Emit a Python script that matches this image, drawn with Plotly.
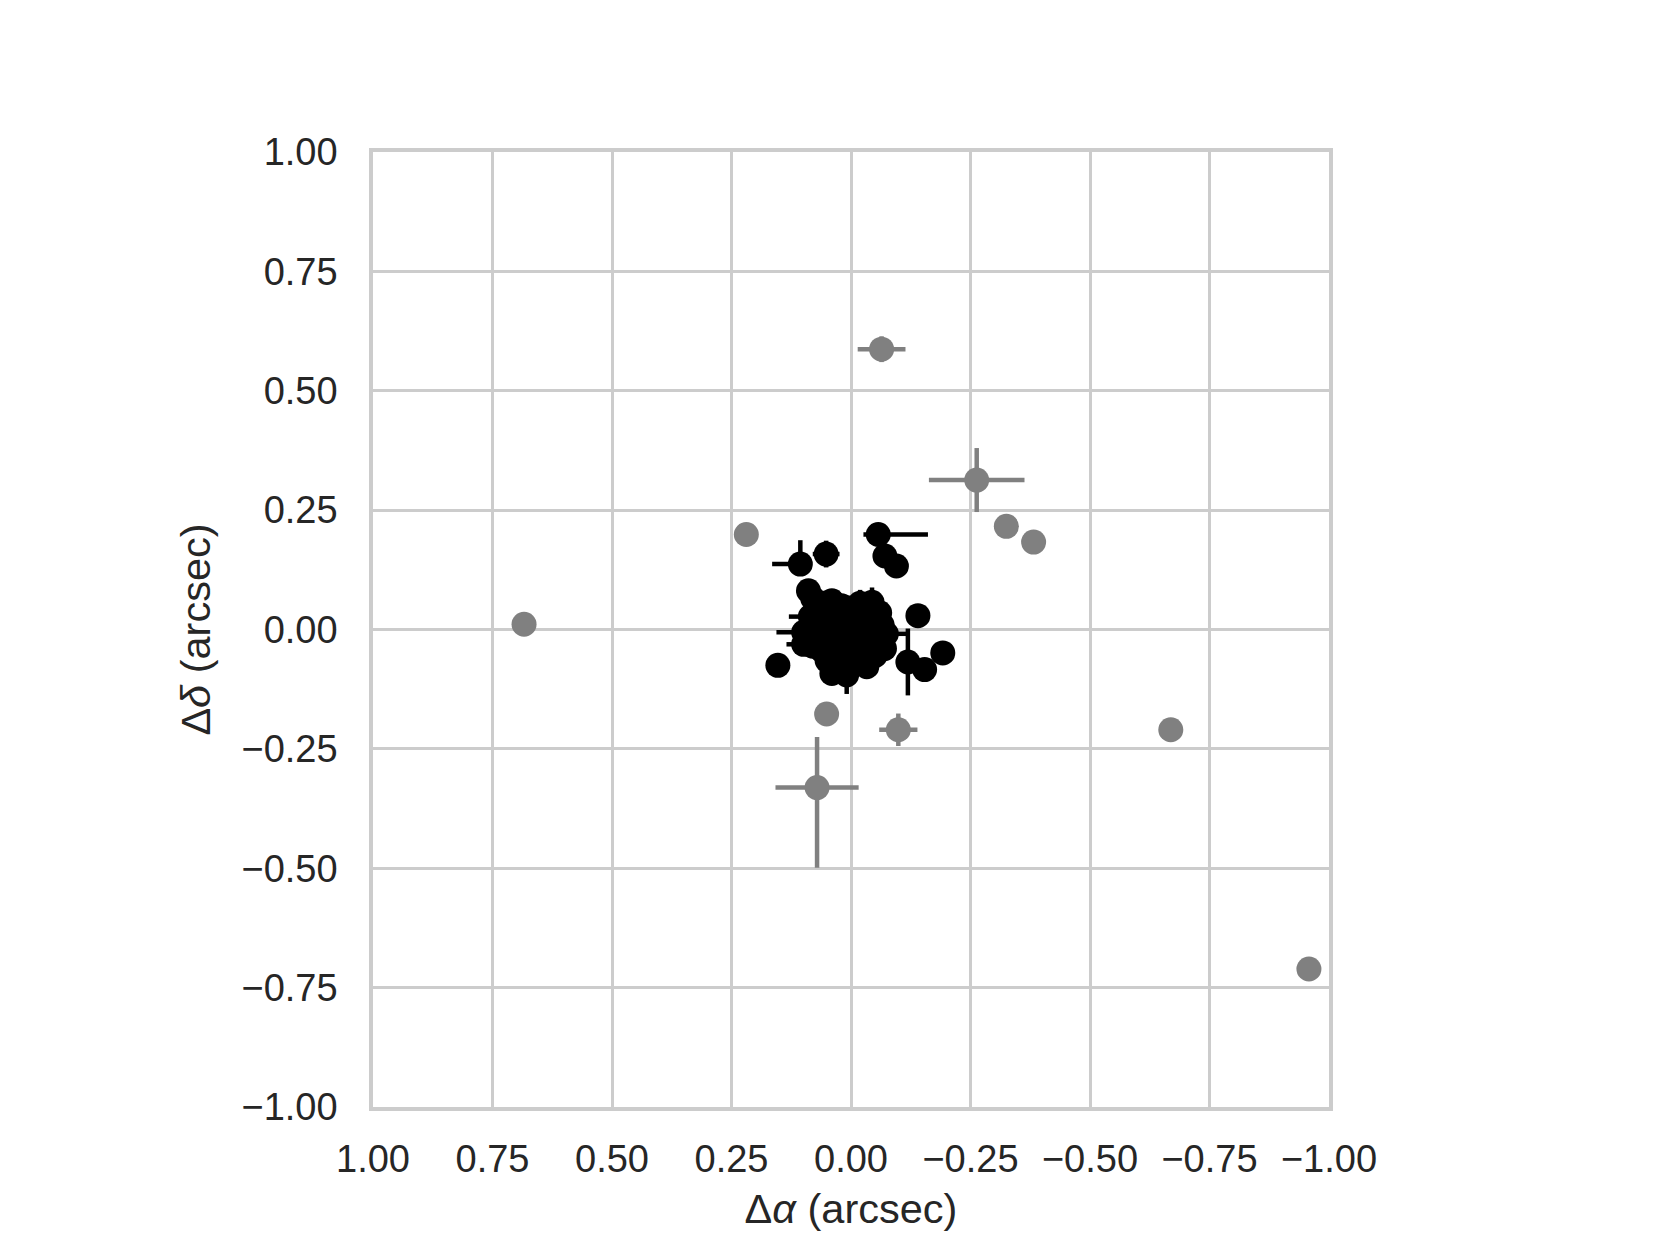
"""
Astrometric offsets: delta RA vs delta Dec, with error bars
"""

import plotly.graph_objects as go

# --- outlying sources (gray) ---
gray_dx = [-0.064, -0.263, -0.325, -0.382, 0.219, 0.684, 0.051, -0.099, 0.071, -0.669, -0.958]
gray_dy = [0.587, 0.313, 0.216, 0.183, 0.199, 0.011, -0.177, -0.210, -0.331, -0.210, -0.711]
gray_ex_plus = [0.050, 0.100, 0.0, 0.0, 0.0, 0.0, 0.0, 0.040, 0.087, 0.0, 0.0]
gray_ex_minus = [0.050, 0.100, 0.0, 0.0, 0.0, 0.0, 0.0, 0.040, 0.087, 0.0, 0.0]
gray_ey_plus = [0.027, 0.067, 0.0, 0.0, 0.0, 0.0, 0.0, 0.034, 0.106, 0.0, 0.0]
gray_ey_minus = [0.027, 0.067, 0.0, 0.0, 0.0, 0.0, 0.0, 0.034, 0.168, 0.0, 0.0]

# --- well-matched sources (black) ---
black_dx = [-0.057, -0.071, -0.095, 0.106, 0.052, 0.089, 0.080, -0.140, -0.192, -0.154,
            -0.119, 0.153, 0.040, 0.009, -0.033, 0.085, 0.099, 0.099, -0.044, -0.019,
            -0.074, 0.060, 0.040, 0.020, 0.000, -0.020, -0.040, -0.060, 0.070, 0.050,
            0.030, 0.010, -0.010, -0.030, -0.050, -0.065, 0.075, 0.055, 0.035, 0.015,
            -0.005, -0.025, -0.045, -0.068, 0.065, 0.045, 0.025, 0.005, -0.015, -0.035,
            -0.055, 0.060, 0.030, 0.000, -0.030, -0.050, 0.050, 0.020, -0.010, 0.038,
            0.012, -0.018, 0.025, -0.005, 0.015, -0.025, 0.045, 0.080, -0.060, -0.070]
black_dy = [0.199, 0.154, 0.133, 0.137, 0.158, 0.081, 0.065, 0.029, -0.049, -0.084,
            -0.068, -0.075, -0.092, -0.095, -0.078, 0.027, -0.006, -0.031, 0.057, 0.055,
            -0.009, 0.055, 0.060, 0.050, 0.045, 0.050, 0.048, 0.035, 0.030, 0.035,
            0.030, 0.028, 0.032, 0.025, 0.020, 0.010, 0.005, 0.010, 0.008, 0.012,
            0.006, 0.004, -0.002, -0.015, -0.020, -0.015, -0.018, -0.012, -0.020, -0.025,
            -0.030, -0.045, -0.040, -0.042, -0.048, -0.055, -0.065, -0.060, -0.058, -0.078,
            -0.075, -0.070, -0.025, -0.030, 0.040, 0.040, -0.040, -0.035, -0.005, -0.040]
black_ex_plus = [0.031, 0.0, 0.0, 0.059, 0.028, 0.0, 0.0, 0.0, 0.0, 0.0,
                 0.0, 0.0, 0.0, 0.0, 0.0, 0.045, 0.057, 0.036, 0.0, 0.0,
                 0.0] + [0.0] * 49
black_ex_minus = [0.104, 0.0, 0.0, 0.020, 0.028, 0.0, 0.0, 0.0, 0.0, 0.0,
                  0.0, 0.0, 0.0, 0.0, 0.0, 0.020, 0.020, 0.020, 0.0, 0.0,
                  0.049] + [0.0] * 49
black_ey_plus = [0.0, 0.0, 0.0, 0.050, 0.028, 0.0, 0.0, 0.0, 0.0, 0.0,
                 0.070, 0.0, 0.0, 0.020, 0.0, 0.0, 0.0, 0.0, 0.031, 0.028,
                 0.0] + [0.0] * 49
black_ey_minus = [0.0, 0.0, 0.0, 0.020, 0.028, 0.0, 0.0, 0.0, 0.0, 0.0,
                  0.070, 0.0, 0.0, 0.040, 0.0, 0.0, 0.0, 0.0, 0.020, 0.020,
                  0.0] + [0.0] * 49

tick_vals = [-1.0, -0.75, -0.5, -0.25, 0.0, 0.25, 0.5, 0.75, 1.0]

GRID = '#cccccc'
TEXT = '#262626'
FONT = 'Liberation Sans, Arial, sans-serif'

fig = go.Figure()

for dx, dy, exp, exm, eyp, eym, color in [
    (gray_dx, gray_dy, gray_ex_plus, gray_ex_minus, gray_ey_plus, gray_ey_minus, '#808080'),
    (black_dx, black_dy, black_ex_plus, black_ex_minus, black_ey_plus, black_ey_minus, '#000000'),
]:
    fig.add_trace(go.Scatter(
        x=dx,
        y=dy,
        mode='markers',
        marker=dict(size=25, color=color, line=dict(width=0)),
        error_x=dict(type='data', symmetric=False, array=exp, arrayminus=exm,
                     color=color, thickness=4.5, width=0),
        error_y=dict(type='data', symmetric=False, array=eyp, arrayminus=eym,
                     color=color, thickness=4.5, width=0),
        showlegend=False,
        hoverinfo='x+y'
    ))

axis_common = dict(
    tickvals=tick_vals,
    tickformat='.2f',
    showgrid=True,
    gridcolor=GRID,
    gridwidth=3,
    showline=True,
    linecolor=GRID,
    linewidth=3.5,
    mirror=True,
    zeroline=False,
    ticks='',
    tickfont=dict(family=FONT, size=38, color=TEXT),
)

# the page body has an 8px margin, so the figure is a bit smaller than the window
fig.update_xaxes(
    range=[1.0, -1.0],
    ticklabelstandoff=16,
    title=dict(text='Δ<i>α</i> (arcsec)', font=dict(family=FONT, size=41.5, color=TEXT), standoff=16),
    **axis_common
)
fig.update_yaxes(
    range=[-1.0, 1.0],
    ticklabelstandoff=24,
    title=dict(text='Δ<i>δ</i> (arcsec)', font=dict(family=FONT, size=41.5, color=TEXT), standoff=19),
    **axis_common
)

fig.update_layout(
    width=1644,
    height=1229,
    margin=dict(l=365, r=323, t=144, b=127),
    paper_bgcolor='white',
    plot_bgcolor='white',
)

fig.write_html("out.html")
